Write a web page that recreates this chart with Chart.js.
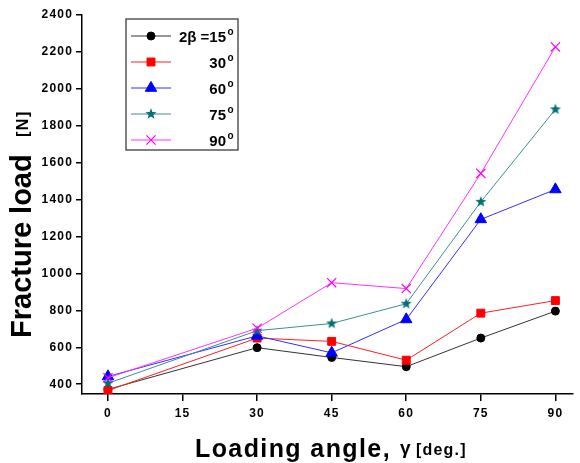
<!DOCTYPE html>
<html>
<head>
<meta charset="utf-8">
<script src="https://cdn.jsdelivr.net/npm/chart.js@4"></script>
<style>
  html, body { margin: 0; padding: 0; background: #fff; }
  #wrap { width: 580px; height: 463px; position: relative; }
</style>
</head>
<body>
<div id="wrap"><canvas id="c" width="580" height="463"></canvas></div>
<script>
// ---- data ----
const angles = [0, 30, 45, 60, 75, 90];
const s15 = [372, 598, 545, 495, 650, 796];
const s30 = [366, 650, 632, 530, 785, 853];
const s60 = [442, 662, 570, 751, 1293, 1455];
const s75 = [405, 690, 729, 836, 1388, 1889];
const s90 = [435, 703, 950, 918, 1542, 2227];
const legendLabels = ['2\u03B2 =15', '30', '60', '75', '90'];
const xTicks = [0, 15, 30, 45, 60, 75, 90];
const yTicks = [400, 600, 800, 1000, 1200, 1400, 1600, 1800, 2000, 2200, 2400];
const yTitle = 'Fracture load';
const yUnit = '[N]';
const xTitle = 'Loading angle,';
const xSym = '\u03B3';
const xUnit = '[deg.]';

// filled 5-point star marker
function makeStar(color, R) {
  const s = Math.ceil(R * 2 + 2);
  const cv = document.createElement('canvas');
  cv.width = s; cv.height = s;
  const g = cv.getContext('2d');
  g.fillStyle = color;
  g.beginPath();
  for (let i = 0; i < 10; i++) {
    const r = i % 2 === 0 ? R : R * 0.42;
    const a = -Math.PI / 2 + i * Math.PI / 5;
    const px = s / 2 + r * Math.cos(a), py = s / 2 + r * Math.sin(a);
    if (i === 0) g.moveTo(px, py); else g.lineTo(px, py);
  }
  g.closePath();
  g.fill();
  return cv;
}
const starImg = makeStar('#007272', 5.8);

function pts(arr) { return angles.map((a, i) => ({ x: a, y: arr[i] })); }

const series = [
  { data: s15, line: '#333333', color: '#000000', style: 'circle', r: 4, order: 4 },
  { data: s30, line: '#ff2020', color: '#ff0000', style: 'rect', r: 5.6, order: 3 },
  { data: s60, line: '#3030ff', color: '#0000ff', style: 'triangle', r: 6.6, order: 2 },
  { data: s75, line: '#3f8f8f', color: '#007272', style: starImg, r: 6, order: 1 },
  { data: s90, line: '#ff30ff', color: '#ff00ff', style: 'crossRot', r: 6.5, order: 0 }
];

const datasets = series.map((s, i) => ({
  label: legendLabels[i],
  data: pts(s.data),
  borderColor: s.line,
  borderWidth: 1,
  pointStyle: s.style,
  pointRadius: s.r,
  pointHoverRadius: s.r,
  pointBackgroundColor: s.color,
  pointBorderColor: s.color,
  pointBorderWidth: s.style === 'crossRot' ? 1.2 : 1,
  order: s.order,
  tension: 0,
  fill: false
}));

const decor = {
  id: 'decor',
  beforeDraw(chart) {
    chart.ctx.letterSpacing = '1.2px';
  },
  afterDraw(chart) {
    const ctx = chart.ctx;
    ctx.save();
    ctx.fillStyle = '#000';
    ctx.textBaseline = 'alphabetic';
    ctx.textAlign = 'left';
    // Y title
    ctx.save();
    ctx.translate(31, 338);
    ctx.rotate(-Math.PI / 2);
    ctx.letterSpacing = '0px';
    ctx.font = 'bold 29px "Liberation Sans", Arial, sans-serif';
    ctx.fillText(yTitle, 0, 0);
    ctx.letterSpacing = '1.5px';
    ctx.font = 'bold 16px "Liberation Sans", Arial, sans-serif';
    ctx.fillText(yUnit, 201, -3);
    ctx.restore();
    // X title
    ctx.letterSpacing = '1.4px';
    ctx.font = 'bold 25px "Liberation Sans", Arial, sans-serif';
    ctx.fillText(xTitle, 195, 457);
    ctx.letterSpacing = '0px';
    ctx.font = 'bold 19px "Liberation Sans", Arial, sans-serif';
    ctx.fillText(xSym, 400, 454);
    ctx.letterSpacing = '1.2px';
    ctx.font = 'bold 16px "Liberation Sans", Arial, sans-serif';
    ctx.fillText(xUnit, 416, 455);

    // Legend
    ctx.letterSpacing = '0px';
    ctx.strokeStyle = '#555';
    ctx.lineWidth = 1.5;
    ctx.strokeRect(126, 19, 112, 131);
    const rows = [36, 62, 88, 114, 140];
    chart.data.datasets.forEach((ds, i) => {
      const y = rows[i];
      ctx.strokeStyle = ds.borderColor;
      ctx.lineWidth = 1;
      ctx.beginPath();
      ctx.moveTo(131, y);
      ctx.lineTo(171, y);
      ctx.stroke();
      ctx.fillStyle = ds.pointBackgroundColor;
      ctx.strokeStyle = ds.pointBorderColor;
      ctx.lineWidth = ds.pointBorderWidth;
      Chart.helpers.drawPoint(ctx, {
        pointStyle: ds.pointStyle, radius: ds.pointRadius, rotation: 0, borderWidth: ds.pointBorderWidth
      }, 151, y);
      ctx.fillStyle = '#000';
      ctx.textAlign = 'right';
      ctx.font = 'bold 15px "Liberation Sans", Arial, sans-serif';
      ctx.fillText(ds.label, 226, y + 5.5);
      ctx.textAlign = 'left';
      ctx.font = 'bold 10px "Liberation Sans", Arial, sans-serif';
      ctx.fillText('o', 227.5, y - 1);
    });
    ctx.restore();
  }
};

new Chart(document.getElementById('c'), {
  type: 'line',
  data: { datasets },
  options: {
    responsive: false,
    animation: false,
    devicePixelRatio: 1,
    layout: { padding: { left: 0, top: 15, right: 7, bottom: 0 } },
    plugins: { legend: { display: false }, tooltip: { enabled: false }, title: { display: false } },
    scales: {
      x: {
        type: 'linear',
        min: -5.22,
        max: 93.4,
        afterBuildTicks: (s) => { s.ticks = xTicks.map(v => ({ value: v })); },
        afterFit: (s) => { s.height = 69; },
        grid: { drawOnChartArea: false, drawTicks: true, tickLength: 7, color: '#000', lineWidth: 1.5 },
        border: { display: true, color: '#000', width: 1.5 },
        ticks: {
          color: '#000', padding: 5, maxRotation: 0, autoSkip: false,
          callback: (v) => String(v),
          font: { family: '"Liberation Sans", Arial, sans-serif', size: 12, weight: 'bold' }
        }
      },
      y: {
        type: 'linear',
        min: 347,
        max: 2400,
        afterBuildTicks: (s) => { s.ticks = yTicks.map(v => ({ value: v })); },
        afterFit: (s) => { s.width = 82; },
        grid: { drawOnChartArea: false, drawTicks: true, tickLength: 6, color: '#000', lineWidth: 1.5 },
        border: { display: true, color: '#000', width: 1.5 },
        ticks: {
          color: '#000', padding: 3, autoSkip: false,
          callback: (v) => String(v),
          font: { family: '"Liberation Sans", Arial, sans-serif', size: 12, weight: 'bold' }
        }
      }
    }
  },
  plugins: [decor]
});
</script>
</body>
</html>
